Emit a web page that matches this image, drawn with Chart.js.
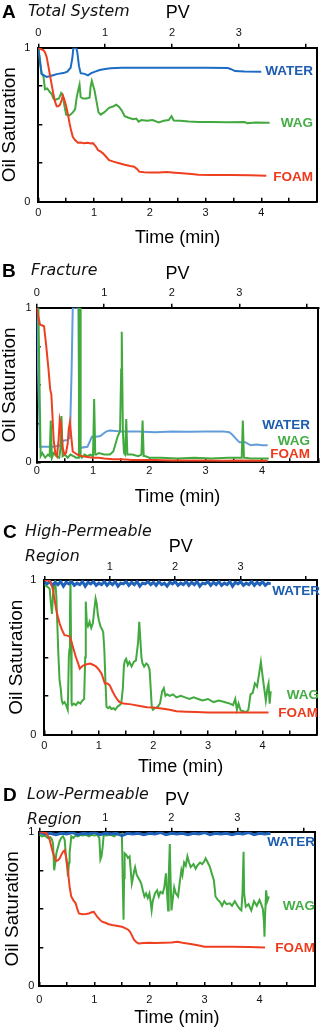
<!DOCTYPE html>
<html><head><meta charset="utf-8">
<script src="https://cdn.jsdelivr.net/npm/chart.js@4.4.1/dist/chart.umd.min.js"></script>
<style>
html,body{margin:0;padding:0;background:#fff;}
body{width:326px;height:1032px;position:relative;overflow:hidden;font-family:"Liberation Sans",Arial,sans-serif;}
canvas{position:absolute;left:0;}
.t{position:absolute;white-space:nowrap;line-height:1;}
.pl{font-weight:900;font-size:19px;color:#000;}
.pt{font-family:"DejaVu Sans",sans-serif;font-style:italic;font-size:15.8px;color:#111;}
.sl{font-weight:bold;font-size:13.5px;}
.w{color:#1e5eb0}.g{color:#45ad45}.f{color:#ee3a1c}
</style></head>
<body>
<canvas id="cA" width="326" height="250" style="top:0px"></canvas>
<canvas id="cB" width="326" height="260" style="top:250px"></canvas>
<canvas id="cC" width="326" height="270" style="top:510px"></canvas>
<canvas id="cD" width="326" height="262" style="top:770px"></canvas>

<div class="t pl" style="left:2px;top:2px">A</div>
<div class="t pt" style="left:28px;top:3px">Total System</div>
<div class="t pl" style="left:2px;top:261px">B</div>
<div class="t pt" style="left:31px;top:262px">Fracture</div>
<div class="t pl" style="left:3px;top:522px">C</div>
<div class="t pt" style="left:25px;top:523px">High-Permeable</div>
<div class="t pt" style="left:25px;top:548px">Region</div>
<div class="t pl" style="left:3px;top:785px">D</div>
<div class="t pt" style="left:27px;top:786px">Low-Permeable</div>
<div class="t pt" style="left:27px;top:811px">Region</div>

<div class="t sl w" style="right:13px;top:64px">WATER</div>
<div class="t sl g" style="right:13px;top:116px">WAG</div>
<div class="t sl f" style="right:13px;top:170px">FOAM</div>
<div class="t sl w" style="right:16px;top:418px">WATER</div>
<div class="t sl g" style="right:16px;top:434px">WAG</div>
<div class="t sl f" style="right:16px;top:447px">FOAM</div>
<div class="t sl w" style="right:6px;top:584px">WATER</div>
<div class="t sl g" style="right:7px;top:688px">WAG</div>
<div class="t sl f" style="right:8px;top:706px">FOAM</div>
<div class="t sl w" style="right:11px;top:835px">WATER</div>
<div class="t sl g" style="right:11px;top:899px">WAG</div>
<div class="t sl f" style="right:11px;top:941px">FOAM</div>

<script>
// ---------- data: [time (min), oil saturation] ----------
const timeTicks = [0, 1, 2, 3, 4];
const pvTicks = [0, 1, 2, 3];
const satTicks = [0, 1];
const PV_AT_5MIN = 4.17;

const aWater = [[0,1.0],[0.03,0.92],[0.06,0.83],[0.1,0.82],[0.15,0.81],[0.25,0.82],[0.35,0.83],[0.45,0.835],[0.52,0.845],[0.58,0.87],[0.61,0.93],[0.63,1.0],[0.68,1.0],[0.7,0.97],[0.73,0.88],[0.76,0.835],[0.83,0.83],[0.89,0.82],[0.95,0.835],[1.02,0.845],[1.1,0.855],[1.2,0.862],[1.3,0.866],[1.5,0.869],[1.7,0.87],[2.0,0.87],[2.5,0.87],[3.0,0.87],[3.4,0.868],[3.45,0.862],[3.53,0.848],[3.7,0.845],[4.0,0.844]];
const aWag = [[0,1.0],[0.03,0.9],[0.06,0.83],[0.09,0.82],[0.12,0.73],[0.16,0.735],[0.21,0.71],[0.24,0.7],[0.27,0.67],[0.3,0.66],[0.33,0.665],[0.37,0.67],[0.41,0.705],[0.44,0.69],[0.47,0.62],[0.5,0.565],[0.56,0.56],[0.62,0.58],[0.66,0.6],[0.69,0.68],[0.72,0.73],[0.74,0.76],[0.76,0.68],[0.8,0.67],[0.86,0.67],[0.92,0.675],[0.94,0.75],[0.96,0.785],[0.98,0.76],[1.01,0.72],[1.04,0.66],[1.08,0.58],[1.12,0.565],[1.18,0.58],[1.27,0.61],[1.35,0.62],[1.4,0.63],[1.45,0.615],[1.5,0.59],[1.55,0.555],[1.62,0.545],[1.7,0.535],[1.76,0.54],[1.8,0.52],[1.85,0.53],[1.95,0.525],[2.05,0.53],[2.16,0.515],[2.25,0.525],[2.34,0.53],[2.39,0.555],[2.43,0.527],[2.55,0.525],[2.7,0.52],[2.87,0.517],[3.1,0.518],[3.4,0.516],[3.7,0.517],[3.75,0.51],[3.9,0.515],[4.1,0.512],[4.15,0.513]];
const aFoam = [[0,1.0],[0.05,0.99],[0.09,0.985],[0.12,0.97],[0.15,0.94],[0.18,0.88],[0.21,0.82],[0.24,0.76],[0.27,0.7],[0.3,0.65],[0.33,0.62],[0.36,0.62],[0.39,0.63],[0.42,0.66],[0.44,0.69],[0.47,0.66],[0.5,0.62],[0.53,0.57],[0.56,0.51],[0.59,0.46],[0.62,0.42],[0.66,0.4],[0.71,0.383],[0.76,0.385],[0.82,0.38],[0.88,0.383],[0.94,0.378],[0.98,0.38],[1.03,0.36],[1.07,0.335],[1.12,0.325],[1.16,0.314],[1.22,0.29],[1.27,0.27],[1.35,0.26],[1.45,0.25],[1.55,0.24],[1.65,0.232],[1.72,0.227],[1.78,0.21],[1.81,0.195],[1.9,0.192],[2.0,0.19],[2.16,0.19],[2.3,0.193],[2.45,0.188],[2.58,0.184],[2.75,0.18],[2.87,0.175],[3.1,0.174],[3.47,0.173],[3.8,0.171],[4.09,0.169]];

const bWater = [[0,1.0],[0.03,0.5],[0.06,0.1],[0.15,0.1],[0.3,0.1],[0.42,0.11],[0.47,0.14],[0.55,0.145],[0.59,0.16],[0.62,0.6],[0.64,1.0],[0.7,1.0],[0.74,1.0],[0.76,0.1],[0.8,0.095],[0.9,0.1],[0.98,0.165],[1.05,0.165],[1.13,0.17],[1.18,0.185],[1.24,0.2],[1.3,0.205],[1.5,0.2],[1.8,0.2],[2.1,0.195],[2.4,0.2],[2.7,0.197],[3.0,0.2],[3.3,0.2],[3.42,0.195],[3.47,0.18],[3.52,0.16],[3.57,0.14],[3.6,0.13],[3.7,0.13],[3.8,0.11],[3.9,0.115],[4.0,0.11],[4.1,0.11]];
const bWag = [[0,1.0],[0.03,1.0],[0.05,0.5],[0.07,0.04],[0.1,0.06],[0.15,0.03],[0.2,0.05],[0.23,0.04],[0.25,0.27],[0.27,0.03],[0.3,0.06],[0.35,0.04],[0.4,0.03],[0.42,0.08],[0.44,0.3],[0.46,0.04],[0.5,0.05],[0.55,0.03],[0.6,0.05],[0.65,0.04],[0.7,0.03],[0.74,0.03],[0.75,1.0],[0.77,1.0],[0.78,0.04],[0.8,0.03],[0.85,0.05],[0.9,0.04],[0.95,0.05],[1.0,0.04],[1.02,0.41],[1.04,0.05],[1.06,0.05],[1.1,0.06],[1.2,0.05],[1.3,0.05],[1.36,0.07],[1.4,0.12],[1.44,0.17],[1.48,0.2],[1.5,0.6],[1.51,0.845],[1.53,0.2],[1.55,0.06],[1.57,0.05],[1.59,0.28],[1.61,0.05],[1.7,0.05],[1.8,0.04],[1.86,0.05],[1.88,0.27],[1.9,0.04],[1.92,0.04],[2.0,0.03],[2.2,0.03],[2.5,0.025],[2.8,0.03],[3.1,0.025],[3.4,0.03],[3.64,0.03],[3.66,0.27],[3.68,0.03],[3.8,0.025],[4.0,0.025],[4.12,0.025]];
const bFoam = [[0,1.0],[0.03,0.94],[0.06,0.89],[0.1,0.885],[0.13,0.88],[0.17,0.75],[0.21,0.6],[0.24,0.47],[0.26,0.44],[0.28,0.3],[0.3,0.15],[0.33,0.06],[0.36,0.04],[0.39,0.15],[0.41,0.28],[0.43,0.25],[0.46,0.1],[0.49,0.05],[0.52,0.06],[0.55,0.12],[0.57,0.22],[0.59,0.26],[0.61,0.18],[0.64,0.07],[0.68,0.06],[0.72,0.05],[0.8,0.04],[0.9,0.035],[1.0,0.03],[1.1,0.03],[1.2,0.025],[1.35,0.02],[1.5,0.02],[1.7,0.015],[1.9,0.015],[2.1,0.015],[2.4,0.012],[2.7,0.012],[3.0,0.012],[3.3,0.01],[3.6,0.012],[3.9,0.01],[4.1,0.01]];

const cWater = [[0,0.99],[0.05,0.975],[0.1,0.99],[0.15,0.965],[0.2,0.985],[0.25,0.97],[0.3,0.99],[0.35,0.96],[0.4,0.985],[0.45,0.975],[0.5,0.99],[0.55,0.965],[0.6,0.98],[0.65,0.97],[0.7,0.99],[0.75,0.96],[0.8,0.985],[0.85,0.975],[0.9,0.99],[0.95,0.965],[1.0,0.98],[1.05,0.97],[1.1,0.99],[1.15,0.965],[1.2,0.985],[1.25,0.97],[1.3,0.99],[1.35,0.96],[1.4,0.98],[1.45,0.975],[1.5,0.99],[1.55,0.965],[1.6,0.985],[1.65,0.97],[1.7,0.99],[1.75,0.96],[1.8,0.98],[1.85,0.975],[1.9,0.99],[1.95,0.97],[2.0,0.985],[2.05,0.965],[2.1,0.99],[2.15,0.97],[2.2,0.98],[2.25,0.96],[2.3,0.985],[2.35,0.975],[2.4,0.99],[2.45,0.965],[2.5,0.98],[2.55,0.97],[2.6,0.99],[2.65,0.965],[2.7,0.985],[2.75,0.97],[2.8,0.99],[2.85,0.96],[2.9,0.98],[2.95,0.975],[3.0,0.99],[3.05,0.965],[3.1,0.985],[3.15,0.97],[3.2,0.99],[3.25,0.965],[3.3,0.98],[3.35,0.97],[3.4,0.99],[3.45,0.96],[3.5,0.985],[3.55,0.975],[3.6,0.99],[3.65,0.965],[3.7,0.98],[3.75,0.97],[3.8,0.99],[3.85,0.965],[3.9,0.985],[3.95,0.97],[4.0,0.99],[4.05,0.965],[4.1,0.98],[4.15,0.975]];
const cWag = [[0,0.97],[0.04,0.96],[0.08,0.95],[0.1,0.94],[0.12,0.85],[0.14,0.78],[0.16,0.9],[0.18,0.97],[0.2,0.99],[0.22,0.9],[0.24,0.7],[0.26,0.5],[0.28,0.35],[0.3,0.3],[0.32,0.22],[0.34,0.2],[0.37,0.21],[0.4,0.19],[0.43,0.16],[0.45,0.5],[0.46,0.55],[0.47,0.8],[0.48,1.0],[0.49,0.6],[0.5,0.2],[0.51,0.19],[0.54,0.2],[0.58,0.19],[0.62,0.21],[0.66,0.2],[0.7,0.22],[0.73,0.23],[0.75,0.5],[0.76,0.86],[0.78,0.72],[0.8,0.7],[0.83,0.73],[0.86,0.69],[0.89,0.72],[0.92,0.82],[0.94,0.88],[0.96,0.85],[0.98,0.78],[1.0,0.74],[1.03,0.7],[1.06,0.68],[1.08,0.66],[1.1,0.55],[1.12,0.35],[1.14,0.18],[1.17,0.17],[1.2,0.18],[1.23,0.165],[1.27,0.17],[1.3,0.16],[1.34,0.18],[1.38,0.19],[1.41,0.2],[1.44,0.3],[1.46,0.45],[1.48,0.48],[1.5,0.49],[1.53,0.45],[1.56,0.47],[1.6,0.44],[1.64,0.47],[1.68,0.48],[1.72,0.6],[1.74,0.73],[1.76,0.62],[1.78,0.5],[1.8,0.46],[1.83,0.44],[1.87,0.46],[1.9,0.45],[1.93,0.42],[1.95,0.3],[1.97,0.18],[1.99,0.16],[2.03,0.17],[2.08,0.18],[2.12,0.2],[2.16,0.28],[2.19,0.3],[2.22,0.25],[2.25,0.26],[2.3,0.25],[2.36,0.26],[2.42,0.24],[2.5,0.25],[2.58,0.24],[2.66,0.23],[2.74,0.24],[2.82,0.23],[2.9,0.22],[3.0,0.23],[3.1,0.21],[3.2,0.22],[3.3,0.21],[3.4,0.2],[3.46,0.19],[3.5,0.23],[3.53,0.16],[3.56,0.2],[3.6,0.155],[3.65,0.15],[3.7,0.145],[3.74,0.16],[3.78,0.26],[3.82,0.27],[3.86,0.33],[3.9,0.31],[3.94,0.4],[3.97,0.47],[4.0,0.38],[4.03,0.3],[4.06,0.22],[4.09,0.3],[4.11,0.33],[4.13,0.2],[4.15,0.28]];
const cFoam = [[0,1.0],[0.1,0.996],[0.13,0.97],[0.16,0.935],[0.19,0.87],[0.22,0.805],[0.25,0.76],[0.28,0.72],[0.32,0.68],[0.37,0.643],[0.42,0.64],[0.46,0.636],[0.49,0.61],[0.53,0.56],[0.58,0.5],[0.62,0.46],[0.65,0.426],[0.69,0.44],[0.72,0.448],[0.78,0.455],[0.84,0.459],[0.9,0.45],[0.95,0.44],[1.0,0.42],[1.05,0.394],[1.11,0.33],[1.16,0.33],[1.2,0.318],[1.25,0.28],[1.29,0.253],[1.34,0.225],[1.38,0.21],[1.45,0.2],[1.59,0.195],[1.75,0.185],[1.88,0.177],[2.0,0.175],[2.18,0.167],[2.3,0.16],[2.42,0.15],[2.6,0.147],[2.78,0.145],[3.0,0.143],[3.37,0.143],[3.8,0.142],[4.11,0.143]];

const dWater = [[0,0.995],[0.1,0.985],[0.2,0.99],[0.3,0.98],[0.4,0.99],[0.5,0.985],[0.6,0.995],[0.7,0.98],[0.8,0.99],[0.9,0.985],[1.0,0.995],[1.1,0.98],[1.2,0.99],[1.3,0.985],[1.4,0.99],[1.5,0.975],[1.6,0.99],[1.7,0.985],[1.8,0.99],[1.9,0.98],[2.0,0.99],[2.1,0.985],[2.2,0.995],[2.3,0.98],[2.4,0.99],[2.5,0.985],[2.6,0.99],[2.7,0.98],[2.8,0.99],[2.9,0.985],[3.0,0.995],[3.1,0.98],[3.2,0.99],[3.3,0.985],[3.4,0.99],[3.5,0.98],[3.6,0.99],[3.7,0.985],[3.8,0.995],[3.9,0.98],[4.0,0.99],[4.1,0.985],[4.2,0.99]];
const dWag = [[0,0.98],[0.05,0.97],[0.1,0.975],[0.15,0.96],[0.2,0.965],[0.23,0.95],[0.25,0.92],[0.27,0.75],[0.29,0.8],[0.31,0.86],[0.34,0.9],[0.37,0.94],[0.4,0.96],[0.43,0.97],[0.46,0.95],[0.49,0.82],[0.51,0.76],[0.52,0.71],[0.54,0.8],[0.55,0.86],[0.57,0.93],[0.58,0.97],[0.62,0.96],[0.66,0.975],[0.7,0.97],[0.75,0.98],[0.79,0.975],[0.85,0.98],[0.9,0.97],[0.95,0.98],[1.0,0.975],[1.05,0.98],[1.09,0.96],[1.11,0.82],[1.13,0.84],[1.15,0.9],[1.17,0.98],[1.22,0.975],[1.3,0.98],[1.36,0.97],[1.42,0.985],[1.48,0.98],[1.5,0.985],[1.52,0.6],[1.53,0.43],[1.54,0.7],[1.55,0.86],[1.58,0.85],[1.61,0.83],[1.64,0.84],[1.66,0.75],[1.68,0.665],[1.7,0.7],[1.72,0.74],[1.74,0.77],[1.77,0.72],[1.8,0.7],[1.83,0.68],[1.85,0.665],[1.88,0.62],[1.91,0.58],[1.94,0.6],[1.97,0.57],[2.0,0.6],[2.02,0.55],[2.04,0.49],[2.06,0.55],[2.1,0.6],[2.14,0.62],[2.17,0.58],[2.2,0.61],[2.24,0.6],[2.27,0.64],[2.3,0.73],[2.32,0.6],[2.34,0.49],[2.35,0.7],[2.37,0.92],[2.38,0.75],[2.4,0.49],[2.42,0.55],[2.45,0.64],[2.48,0.6],[2.52,0.58],[2.55,0.67],[2.58,0.75],[2.6,0.72],[2.63,0.8],[2.66,0.78],[2.69,0.84],[2.72,0.8],[2.75,0.77],[2.8,0.79],[2.84,0.76],[2.87,0.78],[2.92,0.8],[2.96,0.79],[3.0,0.81],[3.02,0.827],[3.06,0.8],[3.1,0.77],[3.14,0.72],[3.17,0.687],[3.19,0.62],[3.2,0.58],[3.24,0.56],[3.28,0.546],[3.32,0.52],[3.36,0.55],[3.4,0.53],[3.46,0.536],[3.5,0.52],[3.55,0.55],[3.61,0.514],[3.64,0.5],[3.67,0.49],[3.69,0.6],[3.71,0.87],[3.72,0.6],[3.75,0.514],[3.8,0.53],[3.85,0.49],[3.9,0.55],[3.95,0.52],[4.0,0.557],[4.03,0.53],[4.06,0.5],[4.08,0.42],[4.09,0.32],[4.1,0.45],[4.12,0.62],[4.14,0.55],[4.17,0.58]];
const dFoam = [[0,1.0],[0.13,0.99],[0.16,0.97],[0.19,0.946],[0.22,0.9],[0.25,0.86],[0.28,0.83],[0.31,0.81],[0.34,0.815],[0.37,0.827],[0.4,0.85],[0.43,0.87],[0.46,0.88],[0.49,0.83],[0.52,0.75],[0.55,0.644],[0.58,0.58],[0.62,0.555],[0.66,0.536],[0.69,0.5],[0.72,0.47],[0.78,0.465],[0.84,0.466],[0.9,0.47],[0.95,0.478],[0.99,0.48],[1.02,0.465],[1.05,0.45],[1.1,0.43],[1.14,0.417],[1.2,0.41],[1.26,0.4],[1.32,0.395],[1.4,0.39],[1.5,0.384],[1.56,0.375],[1.62,0.363],[1.65,0.35],[1.68,0.33],[1.72,0.3],[1.76,0.285],[1.8,0.276],[1.9,0.278],[2.0,0.28],[2.1,0.278],[2.27,0.28],[2.4,0.282],[2.51,0.287],[2.6,0.28],[2.75,0.272],[2.9,0.262],[3.0,0.255],[3.2,0.255],[3.5,0.254],[3.8,0.252],[4.1,0.25]];

// ---------- colours ----------
const RED = '#ee4020', GREEN = '#42a93f', BLUE = '#1c6cc4', BLUE_LIGHT = '#629dd9', BLUE_DARK = '#1f62b8';
const FONT = '"Liberation Sans", Arial, sans-serif';

function makePanel(id, g, sets) {
  const TL = 4;
  new Chart(document.getElementById(id), {
    type: 'line',
    data: { datasets: sets.map(s => ({
      data: s.data.map(p => ({x: p[0], y: p[1]})),
      borderColor: s.color, borderWidth: s.w, pointRadius: 0, tension: 0, fill: false
    })) },
    options: {
      responsive: false, animation: false, devicePixelRatio: 1,
      layout: { padding: { left: 0, right: 326 - g.R, top: 0, bottom: 0 } },
      plugins: { legend: { display: false }, tooltip: { enabled: false } },
      scales: {
        x: {
          type: 'linear', position: 'bottom', min: 0, max: 5,
          afterFit: s => { s.height = g.H - g.B; },
          ticks: { stepSize: 0.5, autoSkip: false, maxRotation: 0, color: '#111',
            font: { family: FONT, size: 11 }, padding: g.botPad - 0.6,
            callback: v => timeTicks.includes(v) ? String(v) : '' },
          grid: { drawOnChartArea: false, tickLength: -TL, color: '#000', lineWidth: 1.5 },
          border: { color: '#000', width: 2 },
          title: { display: true, text: 'Time (min)', color: '#000', font: { family: FONT, size: 18 },
            padding: { top: 0, bottom: g.timePad } }
        },
        x2: {
          type: 'linear', axis: 'x', position: 'top', min: 0, max: PV_AT_5MIN,
          afterFit: s => { s.height = g.T; },
          ticks: { stepSize: 1, includeBounds: false, autoSkip: false, maxRotation: 0, color: '#111',
            font: { family: FONT, size: 11 }, padding: g.topPad - 0.6,
            callback: v => (pvTicks.includes(v) && !(g.hidePv0 && v === 0)) ? String(v) : '' },
          grid: { drawOnChartArea: false, tickLength: TL, color: '#000', lineWidth: 1.5 },
          border: { color: '#000', width: 2 },
          title: { display: true, text: 'PV', color: '#000', font: { family: FONT, size: 18 },
            padding: { top: g.pvPad, bottom: 0 } }
        },
        y: {
          type: 'linear', position: 'left', min: 0, max: 1,
          afterFit: s => { s.width = g.L; },
          ticks: { stepSize: 0.25, autoSkip: false, color: '#111',
            font: { family: FONT, size: 11 }, padding: g.yPad,
            callback: v => satTicks.includes(v) ? String(v) : '' },
          grid: { drawOnChartArea: false, tickLength: -TL, color: '#000', lineWidth: 1.5 },
          border: { color: '#000', width: 2 },
          title: { display: true, text: 'Oil Saturation', color: '#000',
            font: { family: FONT, size: 19, lineHeight: 1 }, padding: { top: g.ytPad, bottom: 0 } }
        },
        y2: {
          type: 'linear', axis: 'y', position: 'right', min: 0, max: 1,
          afterFit: s => { s.width = 0; },
          ticks: { display: false },
          grid: { display: false },
          border: { color: '#000', width: 2 }
        }
      }
    }
  });
}

makePanel('cA', { H: 250, L: 38.3, R: 318.5, T: 47.7, B: 201.7, topPad: 4.7, pvPad: 2.7, botPad: 9.6, timePad: 1.2, yPad: 12, ytPad: 0.5 },
  [{ data: aFoam, color: RED, w: 2 }, { data: aWater, color: BLUE, w: 2 }, { data: aWag, color: GREEN, w: 2 }]);
makePanel('cB', { H: 260, L: 36.7, R: 318.3, T: 57.7, B: 212.3, topPad: 4.4, pvPad: 13.2, botPad: 6.4, timePad: 2.5, yPad: 9, ytPad: 0 },
  [{ data: bFoam, color: RED, w: 2 }, { data: bWag, color: GREEN, w: 2 }, { data: bWater, color: BLUE_LIGHT, w: 2 }]);
makePanel('cC', { H: 270, L: 44.3, R: 324.5, T: 70, B: 224.5, topPad: 3.3, pvPad: 25.9, botPad: 9.5, timePad: 2.2, yPad: 12, ytPad: 7.5, hidePv0: true },
  [{ data: cFoam, color: RED, w: 2 }, { data: cWater, color: BLUE_DARK, w: 3 }, { data: cWag, color: GREEN, w: 2 }]);
makePanel('cD', { H: 262, L: 39.3, R: 320, T: 61.7, B: 216, topPad: 3.7, pvPad: 19.2, botPad: 12, timePad: 2.9, yPad: 9, ytPad: 3, hidePv0: true },
  [{ data: dFoam, color: RED, w: 2 }, { data: dWater, color: BLUE_DARK, w: 3 }, { data: dWag, color: GREEN, w: 2 }]);
</script>
</body></html>
